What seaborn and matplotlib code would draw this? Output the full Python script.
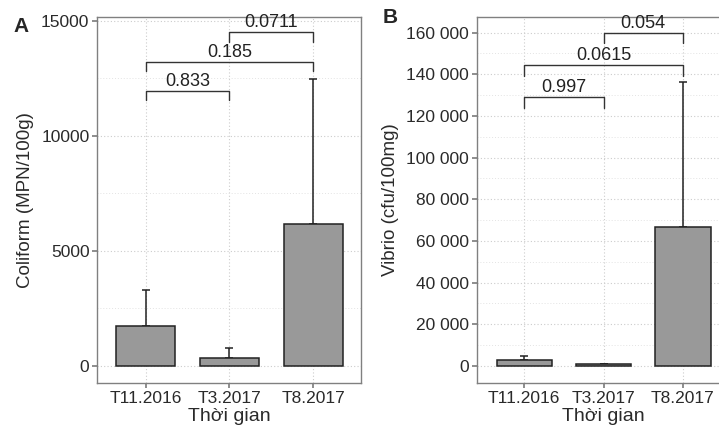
import numpy as np
import seaborn as sns
import matplotlib.pyplot as plt
from matplotlib.ticker import FuncFormatter, MultipleLocator

# data
times = ["T11.2016", "T3.2017", "T8.2017"]
coliform_mean = [1750, 360, 6150]
coliform_upper = [3300, 770, 12450]
vibrio_mean = [2800, 800, 66800]
vibrio_upper = [4800, 1100, 136500]

# p-value brackets: (left group, right group, label)
pairs = [(0, 1), (0, 2), (1, 2)]
coliform_p = ["0.833", "0.185", "0.0711"]
coliform_bracket_y = [11960, 13220, 14490]
vibrio_p = ["0.997", "0.0615", "0.054"]
vibrio_bracket_y = [129150, 144400, 160000]

sns.set_theme(style="white")
plt.rcParams['font.family'] = ['Liberation Sans', 'DejaVu Sans']

fig = plt.figure(figsize=(7.19, 4.25), dpi=100)
axA = fig.add_axes([0.135, 0.099, 0.367, 0.861])
axB = fig.add_axes([0.663, 0.099, 0.353, 0.861])

frame = "#808080"


def draw(ax, means, upper, pvals, bys, drop, ylim, ylabel, major, minor, fmt=None):
    sns.barplot(x=times, y=means, color="#999999", edgecolor="#222222",
                linewidth=1.1, width=0.7, saturation=1, ax=ax, zorder=3)
    ax.errorbar(range(3), means,
                yerr=[np.zeros(3), np.array(upper) - np.array(means)],
                fmt="none", ecolor="#222222", elinewidth=1.1, capsize=3,
                capthick=1.1, zorder=2)
    for (a, b), p, y in zip(pairs, pvals, bys):
        ax.plot([a, a, b, b], [y - drop, y, y, y - drop], color="#333333", lw=1.0, zorder=4)
        ax.text((a + b) / 2, y + drop * 0.1, p, ha="center", va="bottom",
                fontsize=13, color="#222222")
    ax.set_ylim(*ylim)
    ax.yaxis.set_major_locator(MultipleLocator(major))
    ax.yaxis.set_minor_locator(MultipleLocator(minor))
    if fmt is not None:
        ax.yaxis.set_major_formatter(fmt)
    ax.grid(True, which="major", ls=(0, (1, 2)), color="#cccccc", lw=0.8, zorder=0)
    ax.grid(True, which="minor", axis="y", ls=(0, (1, 2)), color="#e3e3e3", lw=0.7, zorder=0)
    ax.set_axisbelow(True)
    for s in ax.spines.values():
        s.set_color(frame)
        s.set_linewidth(1.0)
    ax.tick_params(axis="both", which="major", length=3.5, color=frame, labelsize=12.5,
                   labelcolor="#2a2a2a", pad=2, left=True, bottom=True)
    ax.tick_params(axis="y", which="minor", length=0)
    ax.set_xlabel("Thời gian", fontsize=14, labelpad=2, color="#2a2a2a")
    ax.set_ylabel(ylabel, fontsize=13.5, labelpad=5, color="#2a2a2a")


draw(axA, coliform_mean, coliform_upper, coliform_p, coliform_bracket_y, 420,
     (-738, 15160), "Coliform (MPN/100g)", 5000, 2500)
axA.set_xlim(-0.58, 2.57)

space_fmt = FuncFormatter(lambda v, pos: f"{int(v):,}".replace(",", " "))
draw(axB, vibrio_mean, vibrio_upper, vibrio_p, vibrio_bracket_y, 5200,
     (-8150, 167500), "Vibrio (cfu/100mg)", 20000, 10000, space_fmt)
axB.set_xlim(-0.6, 2.6)

fig.text(0.019, 0.925, "A", fontsize=15, fontweight="bold")
fig.text(0.532, 0.945, "B", fontsize=15, fontweight="bold")

fig.savefig("out.png", dpi=100)
